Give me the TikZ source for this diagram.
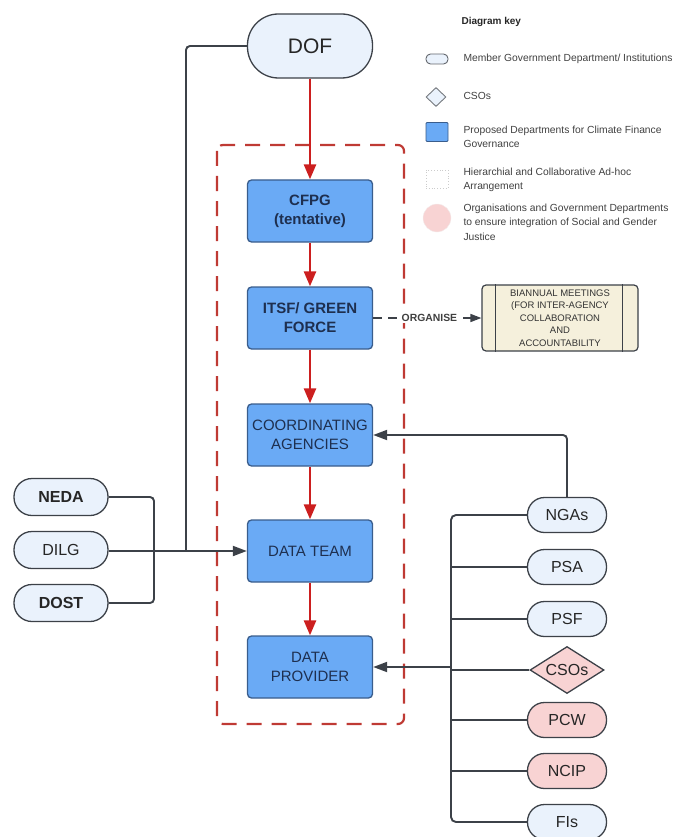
\documentclass[tikz,border=0pt]{standalone}
\usepackage{fontspec}
\setmainfont{Liberation Sans}
\usepackage{xcolor}
\usepackage{tikz}
\usetikzlibrary{arrows.meta, positioning, shapes.geometric}
\definecolor{govfill}{HTML}{EAF2FC}
\definecolor{propfill}{HTML}{6AAAF5}
\definecolor{propline}{HTML}{3A5D8C}
\definecolor{proptext}{HTML}{1E2F4F}
\definecolor{gendfill}{HTML}{F8D3D3}
\definecolor{linedark}{HTML}{3C4148}
\definecolor{redarrow}{HTML}{CC1F1F}
\definecolor{reddash}{HTML}{BF3A34}
\definecolor{meetfill}{HTML}{F5F0DC}
\tikzset{
  govnode/.style={rectangle, rounded corners=17pt, draw=linedark, line width=1.3pt, fill=govfill,
                  minimum width=79pt, minimum height=35pt, inner sep=1pt,
                  font=\fontsize{16}{18}\selectfont, text=black!85},
  gendnode/.style={govnode, fill=gendfill},
  csonode/.style={diamond, aspect=1.55, draw=linedark, line width=1.3pt, fill=gendfill, inner sep=0.5pt,
                  minimum width=74pt, minimum height=47pt, font=\fontsize{16}{18}\selectfont, text=black!85},
  leftnode/.style={govnode, minimum width=94pt, minimum height=37pt, rounded corners=18pt},
  propbox/.style={rectangle, rounded corners=4pt, draw=propline, line width=1.3pt, fill=propfill,
                  minimum width=125pt, minimum height=62pt, inner sep=2pt, align=center,
                  font=\fontsize{15}{19}\selectfont, text=proptext},
  meetbox/.style={rectangle, rounded corners=4pt, draw=linedark, line width=1.2pt, fill=meetfill,
                  minimum width=156pt, minimum height=66pt, inner sep=1pt, align=center,
                  font=\fontsize{9.5}{12.6}\selectfont, text=black!80},
  keytext/.style={anchor=west, align=left, font=\fontsize{10.3}{14.5}\selectfont, text=black!75},
  redflow/.style={-{Triangle[length=15pt, width=12pt]}, draw=redarrow, line width=2.6pt},
  conn/.style={draw=linedark, line width=1.9pt},
  connarrow/.style={conn, -{Triangle[length=14pt, width=10pt]}},
}

\begin{document}
\begin{tikzpicture}[x=1pt, y=-1pt]
\useasboundingbox (0,0) rectangle (674,837);

% ad-hoc arrangement frame
\draw[reddash, line width=2.2pt, dash pattern=on 15pt off 10pt, rounded corners=6pt] (217,145) rectangle (404,724);

% main chain
\node[govnode, minimum width=125pt, minimum height=64pt, rounded corners=31pt, font=\fontsize{21}{24}\selectfont] (dof) at (310,46) {DOF};
\node[propbox, font=\bfseries\fontsize{15}{19}\selectfont] (cfpg) at (310,211) {CFPG\\(tentative)};
\node[propbox, font=\bfseries\fontsize{15}{19}\selectfont] (itsf) at (310,318) {ITSF/ GREEN\\FORCE};
\node[propbox] (coord) at (310,435) {COORDINATING\\AGENCIES};
\node[propbox] (dteam) at (310,551) {DATA TEAM};
\node[propbox] (dprov) at (310,667) {DATA\\PROVIDER};

\draw[redflow] (dof) -- (cfpg);
\draw[redflow] (cfpg) -- (itsf);
\draw[redflow] (itsf) -- (coord);
\draw[redflow] (coord) -- (dteam);
\draw[redflow] (dteam) -- (dprov);

% biannual meetings
\node[meetbox] (meet) at (560,318) {BIANNUAL MEETINGS\\(FOR INTER-AGENCY\\COLLABORATION\\AND\\ACCOUNTABILITY};
\draw[draw=linedark, line width=1pt] ([xshift=14pt]meet.north west) -- ([xshift=14pt]meet.south west);
\draw[draw=linedark, line width=1pt] ([xshift=-16pt]meet.north east) -- ([xshift=-16pt]meet.south east);
\draw[conn, line width=1.5pt, dash pattern=on 9pt off 6pt, -{Triangle[length=11pt, width=8pt]}] (itsf) -- (meet)
  node[pos=0.52, fill=white, inner sep=1pt, font=\bfseries\fontsize{10.4}{12}\selectfont, text=black!75] {ORGANISE};

% member departments feeding the data team
\node[leftnode, font=\bfseries\fontsize{16}{18}\selectfont] (neda) at (61,497) {NEDA};
\node[leftnode] (dilg) at (61,550) {DILG};
\node[leftnode, font=\bfseries\fontsize{16}{18}\selectfont] (dost) at (61,603) {DOST};
\coordinate (ljoin) at (154,551);
\coordinate (djoin) at (186,551);
\draw[conn, rounded corners=4pt] (neda.east) -| (ljoin);
\draw[conn, rounded corners=4pt] (dost.east) -| (ljoin);
\draw[conn, rounded corners=4pt] (dof.west) -| (djoin);
\draw[connarrow] (dilg.east |- dteam) -- (dteam.west);

% data providers
\node[govnode] (ngas) at (567,515) {NGAs};
\node[govnode] (psa) at (567,567) {PSA};
\node[govnode] (psf) at (567,619) {PSF};
\node[csonode] (csos) at (567,670) {CSOs};
\node[gendnode] (pcw) at (567,720) {PCW};
\node[gendnode] (ncip) at (567,771) {NCIP};
\node[govnode] (fis) at (567,822) {FIs};
\coordinate (bustop) at (451,515);
\coordinate (busbot) at (451,822);
\draw[conn, rounded corners=5pt] (ngas.west) -- (bustop) -- (busbot) -- (fis.west);
\foreach \n in {psa, psf, csos, pcw, ncip}
  \draw[conn] (\n.west) -- (\n.west -| bustop);
\draw[connarrow] (bustop |- dprov) -- (dprov.east);
\draw[connarrow, rounded corners=4pt] (ngas.north) |- (coord.east);

% diagram key
\node[anchor=west, font=\bfseries\fontsize{10}{12}\selectfont, text=black!85] (keyhead) at (458,22) {Diagram key};
\node[rectangle, rounded corners=4.5pt, draw=linedark!80, line width=0.9pt, fill=govfill, minimum width=22pt, minimum height=10pt, inner sep=0pt] (kgov) at (437,59) {};
\node[keytext] (kgovt) at (460,59) {Member Government Department/ Institutions};
\node[diamond, aspect=1.1, draw=linedark!70, line width=0.9pt, fill=govfill, minimum width=20pt, minimum height=19pt, inner sep=0pt] (kcso) at (436,97) {};
\node[keytext] (kcsot) at (460,96) {CSOs};
\node[rectangle, rounded corners=1pt, draw=propline, line width=0.9pt, fill=propfill, minimum width=22pt, minimum height=19pt, inner sep=0pt] (kprop) at (437,132) {};
\node[keytext] (kpropt) at (460,137) {Proposed Departments for Climate Finance\\Governance};
\node[rectangle, draw=black!20, dotted, line width=0.8pt, minimum width=22pt, minimum height=18pt, inner sep=0pt] (kadhoc) at (437,179) {};
\node[keytext] (kadhoct) at (460,180) {Hierarchial and Collaborative Ad-hoc\\Arrangement};
\node[circle, fill=gendfill, draw=gendfill!80!black!20, minimum size=28pt, inner sep=0pt] (kgend) at (437,218) {};
\node[keytext] (kgendt) at (460,222) {Organisations and Government Departments\\to ensure integration of Social and Gender\\Justice};
\end{tikzpicture}
\end{document}
